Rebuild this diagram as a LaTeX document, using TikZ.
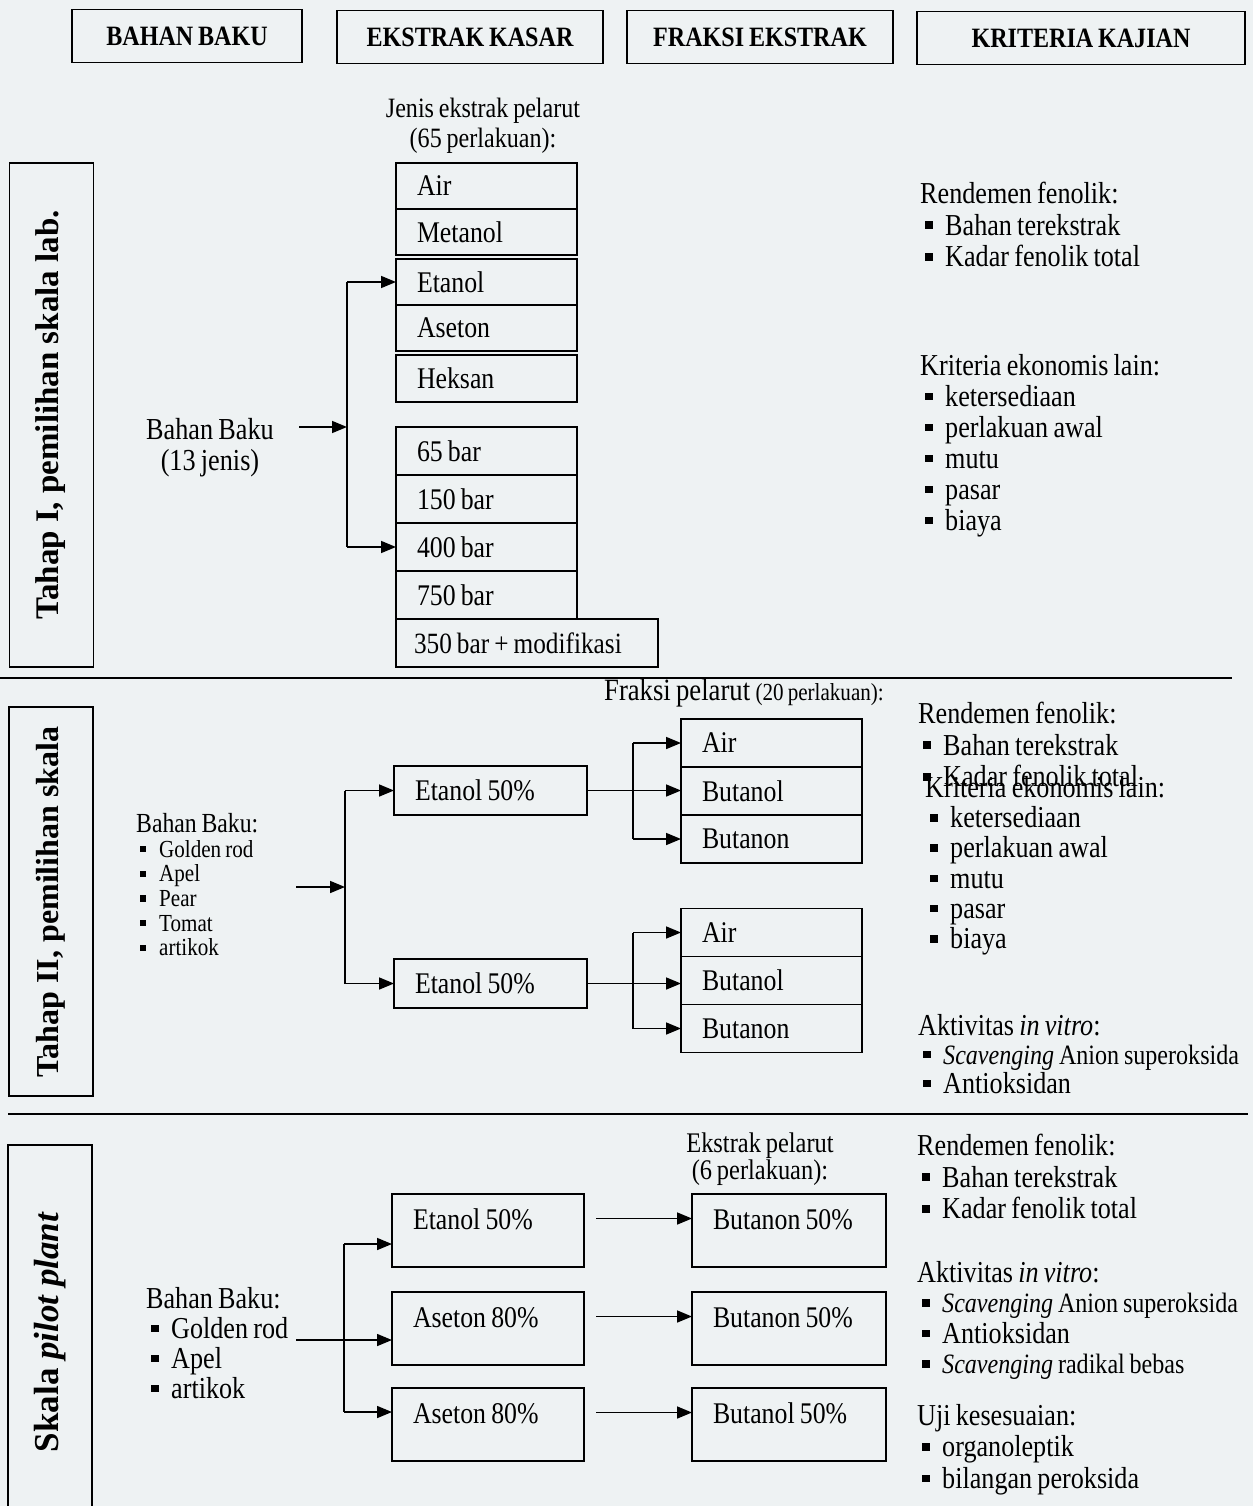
\documentclass[tikz,border=0pt]{standalone}
\usepackage{fontspec}
\setmainfont{Liberation Serif}[FakeStretch=0.86, WordSpace=0.8]
\newfontfamily\titlefont{Liberation Serif}
\usetikzlibrary{arrows.meta,positioning,calc}
\definecolor{paper}{RGB}{238,242,243}
\newcommand{\fsz}[2]{\fontsize{#1pt}{#2pt}\selectfont}
\newcommand{\bul}{\makebox[25pt][l]{\hspace{5pt}\rule[0.2em]{0.25em}{0.25em}}}
\newcommand{\bulsm}{\makebox[23pt][l]{\hspace{4pt}\rule[0.2em]{0.25em}{0.25em}}}
\newcommand{\scv}{\fsz{28}{30}\textit{Scavenging}}
\tikzset{%
  >={Triangle[length=15pt,width=12pt]},
  % Specifications for style of nodes:
     hdrbox/.style = {draw, line width=1.5pt, inner sep=0pt, minimum height=53pt,
                      font=\fsz{28}{30}\bfseries},
      panel/.style = {draw, line width=1.5pt, inner sep=0pt, minimum width=84pt},
  stagename/.style = {rotate=90, inner sep=0pt, font=\titlefont\bfseries},
       cell/.style = {draw, line width=1.5pt, outer sep=0pt, inner xsep=21pt, inner ysep=0pt,
                      minimum height=48pt, text width=139pt, align=justify, font=\fsz{30}{32}},
    widecell/.style = {cell, inner xsep=18pt, text width=226pt, font=\fsz{29.4}{32}},
    midcell/.style = {cell, text width=151pt, minimum height=49pt},
   tallcell/.style = {cell, text width=150pt, minimum height=0pt, text height=35pt, text depth=38pt},
       crit/.style = {align=left, anchor=north west, inner sep=0pt, font=\fsz{30.4}{31}},
    caption/.style = {align=center, anchor=north, inner sep=0pt, font=\fsz{28}{30}},
       conn/.style = {line width=1.6pt},
        sep/.style = {line width=2pt},
}
\begin{document}
\begin{tikzpicture}[x=1pt, y=-1pt]
    \useasboundingbox[fill=paper] (0,0) rectangle (1253,1506);

    % column headers
    \node (hBahan) [hdrbox, minimum width=230pt] at (187,36) {BAHAN BAKU};
    \node (hEkstrak) [hdrbox, minimum width=266pt] at (470,37) {EKSTRAK KASAR};
    \node (hFraksi) [hdrbox, minimum width=266pt] at (760,37) {FRAKSI EKSTRAK};
    \node (hKriteria) [hdrbox, minimum width=328pt] at (1081,38) {KRITERIA KAJIAN};

    % ---- Tahap I ----
    \node (panI) [panel, minimum height=504pt] at (51.5,415) {};
    \node (nameI) [stagename, font=\titlefont\bfseries\fsz{33}{36}] at (51,415) {Tahap I, pemilihan skala lab.};

    \node (jenis) [caption] at (483,98) {Jenis ekstrak pelarut\\(65 perlakuan):};
    \node (air) [cell, minimum height=46pt] at (486.5,186) {Air};
    \node (metanol) [cell, minimum height=46pt, below=0pt of air] {Metanol};
    \node (etanol) [cell, minimum height=46pt] at (486.5,282) {Etanol};
    \node (aseton) [cell, minimum height=46pt, below=0pt of etanol] {Aseton};
    \node (heksan) [cell, minimum height=47pt] at (486.5,378.5) {Heksan};
    \node (p65) [cell] at (486.5,451) {65 bar};
    \node (p150) [cell, below=0pt of p65] {150 bar};
    \node (p400) [cell, below=0pt of p150] {400 bar};
    \node (p750) [cell, below=0pt of p400] {750 bar};
    \node (pmod) [widecell, below=0pt of p750.south west, anchor=north west] {350 bar + modifikasi};

    \node (bbI) [caption, font=\fsz{30.5}{31}] at (210,418) {Bahan Baku\\(13 jenis)};
    \coordinate (inI) at (299,427);
    \coordinate (jI) at (347,427);
    \draw [conn, ->] (inI) -- (jI);
    \draw [conn] (jI |- etanol.west) -- (jI |- p400.west);
    \draw [conn, ->] (jI |- etanol.west) -- (etanol.west);
    \draw [conn, ->] (jI |- p400.west) -- (p400.west);

    \node (rendI) [crit, font=\fsz{30.4}{31.5}] at (920,182) {Rendemen fenolik:\\\bul Bahan terekstrak\\\bul Kadar fenolik total};
    \node (ekoI) [crit] at (920,354) {Kriteria ekonomis lain:\\\bul ketersediaan\\\bul perlakuan awal\\\bul mutu\\\bul pasar\\\bul biaya};

    \draw [sep] (0,678) -- (1232,678);

    % ---- Tahap II ----
    \node (panII) [panel, minimum height=389pt] at (51,901.5) {};
    \node (nameII) [stagename, font=\titlefont\bfseries\fsz{32}{36}] at (51,902) {Tahap II, pemilihan skala};

    \node (fraksi) [crit, font=\fsz{31}{32}] at (604,679) {Fraksi pelarut {\fsz{24.5}{28}(20 perlakuan):}};
    \node (bbII) [crit, font=\fsz{24.5}{24.7}] at (136,813) {{\fsz{27.6}{26}Bahan Baku:}\\\bulsm Golden rod\\\bulsm Apel\\\bulsm Pear\\\bulsm Tomat\\\bulsm artikok};
    \node (etA) [midcell] at (490.5,790.5) {Etanol 50\%};
    \node (etB) [midcell] at (490.5,983.5) {Etanol 50\%};
    \coordinate (inII) at (296,887);
    \coordinate (jII) at (345,887);
    \draw [conn, ->] (inII) -- (jII);
    \draw [conn] (jII |- etA.west) -- (jII |- etB.west);
    \draw [conn, ->] (jII |- etA.west) -- (etA.west);
    \draw [conn, ->] (jII |- etB.west) -- (etB.west);

    \node (fa1) [cell] at (771.5,743) {Air};
    \node (fa2) [cell, below=0pt of fa1] {Butanol};
    \node (fa3) [cell, below=0pt of fa2] {Butanon};
    \node (fb1) [cell] at (771.5,932.5) {Air};
    \node (fb2) [cell, below=0pt of fb1] {Butanol};
    \node (fb3) [cell, below=0pt of fb2] {Butanon};
    \coordinate (jA) at (633,790.5);
    \coordinate (jB) at (633,983.5);
    \draw [conn] (etA.east) -- (jA);
    \draw [conn] (jA |- fa1.west) -- (jA |- fa3.west);
    \draw [conn, ->] (jA |- fa1.west) -- (fa1.west);
    \draw [conn, ->] (jA) -- (fa2.west |- jA);
    \draw [conn, ->] (jA |- fa3.west) -- (fa3.west);
    \draw [conn] (etB.east) -- (jB);
    \draw [conn] (jB |- fb1.west) -- (jB |- fb3.west);
    \draw [conn, ->] (jB |- fb1.west) -- (fb1.west);
    \draw [conn, ->] (jB) -- (fb2.west |- jB);
    \draw [conn, ->] (jB |- fb3.west) -- (fb3.west);

    \node (rendII) [crit, font=\fsz{30.4}{31.5}] at (918,702) {Rendemen fenolik:\\\bul Bahan terekstrak\\\bul Kadar fenolik total};
    \node (ekoII) [crit, font=\fsz{30.4}{30.3}] at (925,776) {Kriteria ekonomis lain:\\\bul ketersediaan\\\bul perlakuan awal\\\bul mutu\\\bul pasar\\\bul biaya};
    \node (vitroII) [crit, font=\fsz{30.4}{29}] at (918,1014) {Aktivitas \textit{in vitro}:\\\bul {\scv{} Anion superoksida}\\\bul Antioksidan};

    \draw [sep] (8,1114) -- (1248,1114);

    % ---- Skala pilot plant ----
    \node (panIII) [panel, minimum height=380pt] at (50,1335) {};
    \node (nameIII) [stagename, font=\titlefont\bfseries\fsz{35}{36}] at (50,1332) {Skala \textit{pilot plant}};

    \node (ekstrak) [caption, font=\fsz{28.4}{27}] at (760,1133) {Ekstrak pelarut\\(6 perlakuan):};
    \node (bbIII) [crit, font=\fsz{30.4}{30}] at (146,1287) {Bahan Baku:\\\bul Golden rod\\\bul Apel\\\bul artikok};

    \node (e1) [tallcell] at (488,1230.5) {Etanol 50\%};
    \node (e2) [tallcell] at (488,1328.5) {Aseton 80\%};
    \node (e3) [tallcell] at (488,1424.5) {Aseton 80\%};
    \node (b1) [tallcell, text width=152pt] at (789,1230.5) {Butanon 50\%};
    \node (b2) [tallcell, text width=152pt] at (789,1328.5) {Butanon 50\%};
    \node (b3) [tallcell, text width=152pt] at (789,1424.5) {Butanol 50\%};

    \coordinate (inIII) at (296,1340);
    \coordinate (tIII) at (344,1244);
    \coordinate (bIII) at (344,1412);
    \draw [conn] (tIII) -- (bIII);
    \draw [conn, ->] (tIII) -- (e1.west |- tIII);
    \draw [conn, ->] (inIII) -- (e2.west |- inIII);
    \draw [conn, ->] (bIII) -- (e3.west |- bIII);
    \draw [conn, ->] ([shift={(12,-12)}]e1.east) -- ([shift={(0,-12)}]b1.west);
    \draw [conn, ->] ([shift={(12,-12)}]e2.east) -- ([shift={(0,-12)}]b2.west);
    \draw [conn, ->] ([shift={(12,-12)}]e3.east) -- ([shift={(0,-12)}]b3.west);

    \node (rendIII) [crit, font=\fsz{30.4}{31.5}] at (917,1134) {Rendemen fenolik:\\\bul Bahan terekstrak\\\bul Kadar fenolik total};
    \node (vitroIII) [crit, font=\fsz{30.4}{30.5}] at (917,1261) {Aktivitas \textit{in vitro}:\\\bul {\scv{} Anion superoksida}\\\bul Antioksidan\\\bul {\scv{} radikal bebas}};
    \node (ujiIII) [crit, font=\fsz{30.4}{31.5}] at (917,1404) {Uji kesesuaian:\\\bul organoleptik\\\bul bilangan peroksida};
\end{tikzpicture}
\end{document}
